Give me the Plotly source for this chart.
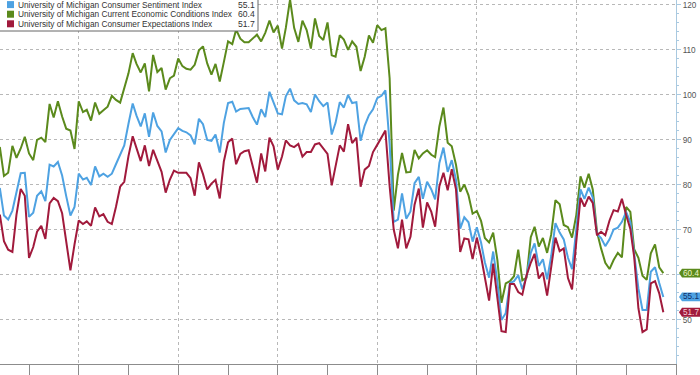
import pandas as pd
import plotly.graph_objects as go

# Monthly data, April 2012 .. September 2025 (month-end)
start_month = "2012-04-01"

sentiment = [
    76.4, 79.3, 73.2, 72.3, 74.3, 78.3, 82.6, 82.7, 72.9,
    73.8, 77.6, 78.6, 76.4, 84.5, 84.1, 85.1, 82.1, 77.5, 73.2, 75.1, 82.5,
    81.2, 81.6, 80.0, 84.1, 81.9, 82.5, 81.8, 82.5, 84.6, 86.9, 88.8, 93.6,
    98.1, 95.4, 93.0, 95.9, 90.7, 96.1, 93.1, 91.9, 87.2, 90.0, 91.3, 92.6,
    92.0, 91.7, 91.0, 89.0, 94.7, 93.5, 90.0, 89.8, 91.2, 87.2, 93.8, 98.2,
    98.5, 96.3, 96.9, 97.0, 97.1, 95.1, 93.4, 96.8, 95.1, 100.7, 98.5, 95.9,
    95.7, 99.7, 101.4, 98.8, 98.0, 98.2, 97.9, 96.2, 100.1, 98.6, 97.5, 98.3,
    91.2, 93.8, 98.4, 97.2, 100.0, 98.2, 98.4, 89.8, 93.2, 95.5, 96.8, 99.3,
    99.8, 101.0, 89.1, 71.8, 72.3, 78.1, 72.5, 74.1, 80.4, 81.8, 76.9, 80.7,
    79.0, 76.8, 84.9, 88.3, 82.9, 85.5, 81.2, 70.3, 72.8, 71.7, 67.4, 70.6,
    67.2, 62.8, 59.4, 65.2, 58.4, 50.0, 51.5, 58.2, 58.6, 59.9, 56.8, 59.7,
    64.9, 67.0, 62.0, 63.5, 59.0, 64.2, 71.5, 69.4, 67.9, 63.8, 61.3, 69.7,
    79.0, 76.9, 79.4, 77.2, 69.1, 68.2, 66.4, 67.9, 70.1, 70.5, 71.8, 74.0,
    71.7, 64.7, 57.0, 52.2, 52.2, 60.7, 61.7, 58.2, 55.1,
]

current = [
    87.0, 88.4, 82.0, 82.7, 88.7, 86.0, 88.1, 90.7, 87.0,
    85.5, 90.0, 90.5, 89.5, 98.0, 95.0, 98.6, 95.2, 92.5, 92.1, 88.0, 98.6,
    96.2, 96.7, 94.3, 98.3, 95.8, 96.6, 97.4, 99.8, 98.9, 98.3, 101.3, 104.8,
    109.3, 106.9, 105.0, 107.0, 100.8, 108.9, 105.1, 106.0, 101.2, 103.7, 104.3, 108.1,
    106.4, 105.8, 105.6, 106.7, 109.9, 110.8, 107.0, 104.5, 106.9, 103.0, 107.3, 111.9,
    111.3, 114.5, 112.5, 111.7, 111.7, 112.5, 113.4, 111.9, 113.8, 116.5, 113.9, 115.4,
    110.3, 114.9, 121.2, 114.9, 111.8, 116.5, 114.4, 110.3, 117.0, 113.1, 112.2, 116.1,
    108.8, 108.5, 113.3, 112.3, 110.0, 111.9, 110.7, 105.3, 108.5, 113.2, 111.6, 115.5,
    114.4, 114.8, 103.7, 74.3, 82.3, 87.1, 82.8, 82.9, 87.8, 85.9, 87.0, 87.7,
    86.7, 86.2, 93.0, 97.2, 89.4, 88.6, 84.5, 78.5, 80.1, 77.7, 73.6, 74.2,
    72.0, 68.2, 67.2, 69.4, 63.3, 53.8, 58.1, 58.6, 59.7, 65.6, 58.8, 59.4,
    68.4, 70.7, 66.3, 68.2, 64.9, 69.0, 76.6, 75.7, 71.1, 70.6, 68.3, 73.3,
    81.9, 79.4, 82.5, 79.0, 69.6, 65.9, 62.7, 61.3, 63.3, 64.9, 63.9, 75.1,
    74.0, 65.7, 63.8, 59.8, 58.9, 64.8, 66.8, 61.7, 60.4,
]

expectations = [
    69.6, 73.4, 67.5, 65.6, 65.1, 73.4, 79.1, 77.6, 63.8,
    66.2, 69.6, 70.9, 68.0, 75.9, 77.1, 76.4, 73.7, 67.8, 61.0, 66.8, 72.1,
    71.3, 71.9, 70.9, 75.0, 73.0, 73.5, 71.8, 71.3, 75.1, 79.6, 80.7, 86.4,
    90.8, 88.0, 85.3, 88.8, 84.2, 87.8, 85.4, 82.9, 78.3, 81.2, 83.2, 82.7,
    82.7, 82.7, 81.5, 77.6, 85.0, 82.4, 79.0, 80.3, 81.1, 77.0, 85.2, 89.5,
    90.3, 84.6, 86.9, 87.5, 87.7, 83.9, 80.5, 87.0, 83.0, 90.5, 88.6, 83.4,
    86.3, 89.9, 88.8, 88.4, 89.1, 86.3, 87.3, 87.3, 89.0, 89.3, 88.1, 86.9,
    79.9, 84.4, 88.8, 87.4, 93.5, 89.3, 90.5, 79.6, 83.4, 84.2, 87.3, 88.9,
    90.5, 92.1, 79.7, 70.1, 65.9, 72.3, 65.9, 68.5, 75.6, 79.2, 70.5, 76.1,
    74.0, 70.7, 79.7, 82.7, 78.8, 83.5, 79.0, 65.1, 68.1, 67.9, 63.5, 68.3,
    64.1, 59.4, 54.3, 62.5, 55.2, 47.5, 47.3, 58.0, 58.0, 56.2, 55.6, 59.9,
    62.7, 64.7, 59.2, 60.5, 55.4, 61.3, 68.3, 65.3, 65.9, 59.3, 56.8, 67.4,
    77.1, 75.2, 77.4, 76.0, 68.8, 69.6, 68.8, 72.1, 74.4, 74.1, 76.9, 73.3,
    70.2, 64.0, 52.6, 47.3, 47.9, 58.1, 58.6, 55.9, 51.7,
]

# right-axis tick labels ("60" is hidden behind the green value tag)
y_tickvals = [50, 60, 70, 80, 90, 100, 110, 120]
y_ticktext = ["50", "", "70", "80", "90", "100", "110", "120"]

names = [
    "University of Michigan Consumer Sentiment Index",
    "University of Michigan Current Economic Conditions Index",
    "University of Michigan Consumer Expectations Index",
]
series = [sentiment, current, expectations]
colors = ["#4ea2e2", "#5b8a1c", "#a11a3c"]
tag_text_colors = ["#12306a", "#eef6c8", "#f8d0d8"]

dates = (pd.date_range(start=start_month, periods=len(sentiment), freq="MS")
         + pd.offsets.MonthEnd(0))

FONT = "Liberation Sans, Arial, sans-serif"
W, H = 700, 375
ML, MR, MT, MB = 0, 24, 0, 11
PW = W - ML - MR
PH = H - MT - MB
YR = [40.2, 121.1]
UNIT_PX = PH / (YR[1] - YR[0])

fig = go.Figure()
draw_order = [1, 0, 2]
for i in draw_order:
    fig.add_trace(go.Scatter(
        x=dates, y=series[i], mode="lines", name=names[i],
        line=dict(color=colors[i], width=2), showlegend=False,
        hoverinfo="skip",
    ))

shapes = []
annotations = []


def px_x(p):
    return p / PW


def px_y(p):
    return 1 - p / PH


# custom legend box
shapes.append(dict(type="rect", xref="paper", yref="paper",
                   x0=-0.01, x1=px_x(258), y0=px_y(31), y1=1.05,
                   fillcolor="white", line=dict(color="#666666", width=1),
                   layer="above"))
for k, (nm, s, c) in enumerate(zip(names, series, colors)):
    cy = 4.6 + 9.6 * k
    shapes.append(dict(type="rect", xref="paper", yref="paper",
                       x0=px_x(7), x1=px_x(14), y0=px_y(cy + 3.5), y1=px_y(cy - 3.5),
                       fillcolor=c, line=dict(width=0), layer="above"))
    annotations.append(dict(xref="paper", yref="paper", x=px_x(16), y=px_y(cy),
                            xanchor="left", yanchor="middle", text=nm,
                            showarrow=False, font=dict(family=FONT, size=8.3, color="#333333")))
    annotations.append(dict(xref="paper", yref="paper", x=px_x(257), y=px_y(cy),
                            xanchor="right", yanchor="middle", text=f"{s[-1]:.1f}",
                            showarrow=False, font=dict(family=FONT, size=8.6, color="#333333")))

# right-hand value tags
h = 4.4 / UNIT_PX
for s, c, tc in zip(series, colors, tag_text_colors):
    v = s[-1]
    xa, xb, xc = 1 + 3 / PW, 1 + 6 / PW, 1 + 26 / PW
    path = (f"M {xa} {v} L {xb} {v + h} L {xc} {v + h} "
            f"L {xc} {v - h} L {xb} {v - h} Z")
    shapes.append(dict(type="path", xref="paper", yref="y", path=path,
                       fillcolor=c, line=dict(width=0), layer="above"))
    annotations.append(dict(xref="paper", yref="y", x=1 + 6 / PW, y=v,
                            xanchor="left", yanchor="middle", text=f"{v:.1f}",
                            showarrow=False, borderpad=0,
                            font=dict(family=FONT, size=8.2, color=tc)))

fig.update_layout(
    width=W, height=H,
    margin=dict(l=ML, r=MR, t=MT, b=MB, pad=0),
    paper_bgcolor="white", plot_bgcolor="white",
    font=dict(family=FONT, size=8.6, color="#555555"),
    shapes=shapes, annotations=annotations,
    xaxis=dict(
        type="date", range=["2012-06-01", "2026-01-01"],
        showline=True, linecolor="#8c8c8c", linewidth=1,
        ticks="outside", ticklen=11, tickcolor="#8c8c8c", tickwidth=1,
        dtick="M24", tick0="2014-01-01", showticklabels=False,
        showgrid=True, gridcolor="#b8b8b8", griddash="dot", gridwidth=1,
        zeroline=False,
        minor=dict(dtick="M12", tick0="2013-01-01", ticks="outside",
                   ticklen=11, tickcolor="#8c8c8c", showgrid=False),
    ),
    yaxis=dict(
        side="right", range=YR, tickmode="array",
        tickvals=y_tickvals, ticktext=y_ticktext,
        showgrid=True, gridcolor="#b8b8b8", griddash="dot", gridwidth=1,
        showline=True, linecolor="#a9c9e0", linewidth=1,
        ticks="outside", ticklen=4, tickcolor="#a9c9e0",
        tickfont=dict(family=FONT, size=8.2, color="#555555"),
        zeroline=False,
        minor=dict(dtick=2, tick0=0, ticks="outside", ticklen=2,
                   tickcolor="#a9c9e0", showgrid=False),
    ),
)

fig.write_html("out.html",
               config={"displayModeBar": False, "staticPlot": True},
               post_script="document.body.style.margin='0px';"
                           "document.body.style.padding='0px';")
